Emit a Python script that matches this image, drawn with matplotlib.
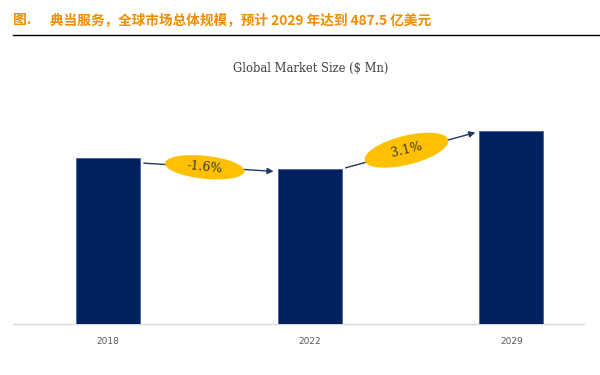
import matplotlib.pyplot as plt
from matplotlib.patches import Ellipse
from matplotlib.transforms import ScaledTranslation

plt.rcParams['font.family'] = ['Noto Sans CJK SC', 'DejaVu Sans']

years = ["2018", "2022", "2029"]
market_size = [41930, 39150, 48750]  # $ Mn
growth_labels = ["-1.6%", "3.1%"]

fig = plt.figure(figsize=(6, 3.75), dpi=100)
ax = fig.add_axes([13 / 600, 1 - 324 / 375, 571 / 600, 224 / 375])

x = list(range(len(years)))
ax.bar(x, market_size, width=0.317, color="#002060", edgecolor="#3A5A95", linewidth=0.5, zorder=3)

ax.set_xlim(-0.47, 2.36)
ax.set_ylim(0, 56580)
ax.set_xticks(x)
ax.set_xticklabels(years, fontsize=6.5, color="#595959", family="DejaVu Sans")
ax.tick_params(axis="x", length=0, pad=9)
ax.set_yticks([])
for side in ["top", "left", "right"]:
    ax.spines[side].set_visible(False)
ax.spines["bottom"].set_color("#D9D9D9")
ax.spines["bottom"].set_linewidth(1.0)

# growth arrows between bars
bw = 0.317
ends = [
    ((x[0] + bw / 2 + 0.02, market_size[0] - 1300), (x[1] - bw / 2 - 0.02, market_size[1] - 600)),
    ((x[1] + bw / 2 + 0.02, market_size[1] + 300), (x[2] - bw / 2 - 0.02, market_size[2] - 400)),
]
ell_w = [80, 86]
ell_h = [23, 29]
ell_angle = [-6, 14]
for (p0, p1), lab, w, h, ang in zip(ends, growth_labels, ell_w, ell_h, ell_angle):
    ax.annotate("", xy=p1, xytext=p0,
                arrowprops=dict(arrowstyle="-|>", color="#1F3864", lw=1.0,
                                mutation_scale=9, shrinkA=0, shrinkB=0), zorder=4)
    cx = (p0[0] + p1[0]) / 2 - 0.02
    cy = (p0[1] + p1[1]) / 2
    tr = fig.dpi_scale_trans + ScaledTranslation(cx, cy, ax.transData)
    ax.add_patch(Ellipse((0, 0), w / 100, h / 100, angle=ang, transform=tr,
                         facecolor="#FFC000", edgecolor="none", zorder=5, clip_on=False))
    ax.text(cx, cy, lab, ha="center", va="center", rotation=ang, fontsize=9,
            color="#3A3A3A", family="DejaVu Serif", zorder=6)

fig.text(311 / 600, 1 - 68 / 375, "Global Market Size ($ Mn)", ha="center", va="center",
         fontsize=8.3, color="#404040", family="DejaVu Serif")

fig.text(13 / 600, 1 - 20 / 375, "图.", ha="left", va="center", fontsize=10,
         color="#F08C00", fontweight="bold")
fig.text(50 / 600, 1 - 20 / 375, "典当服务，全球市场总体规模，预计 2029 年达到 487.5 亿美元",
         ha="left", va="center", fontsize=9.8, color="#F08C00", fontweight="bold")
fig.add_artist(plt.Line2D([13 / 600, 1], [1 - 35 / 375, 1 - 35 / 375], color="black", lw=1.0))

fig.savefig("out.png", dpi=100)
plt.close(fig)
